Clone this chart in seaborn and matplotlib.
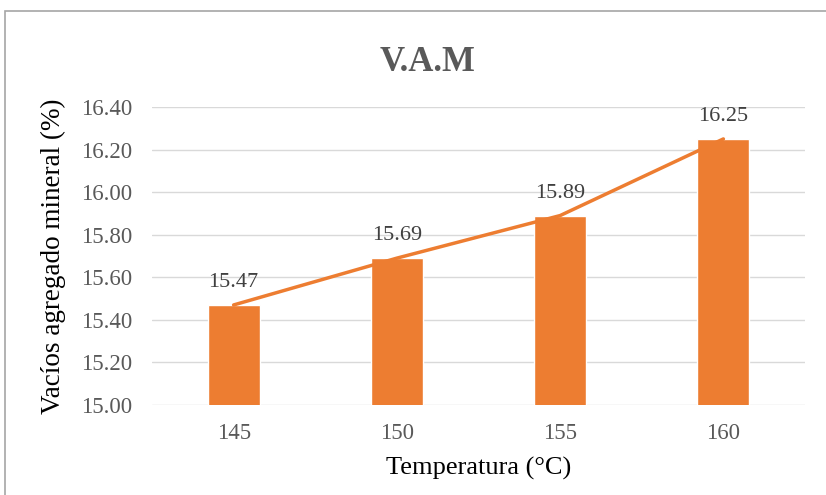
import matplotlib
matplotlib.use("Agg")
import matplotlib.pyplot as plt
import seaborn as sns
import pandas as pd
from matplotlib.patches import Rectangle

temperaturas = ["145", "150", "155", "160"]
vam = [15.47, 15.69, 15.89, 16.25]
yticks = [15.00, 15.20, 15.40, 15.60, 15.80, 16.00, 16.20, 16.40]

sns.set_theme(style="white")
plt.rcParams['font.family'] = ['Liberation Serif', 'DejaVu Serif']

df = pd.DataFrame({"Temperatura": temperaturas, "VAM": vam})

fig = plt.figure(figsize=(8.26, 4.95), dpi=100)
ax = fig.add_axes([152/826, 1 - 405/495, 653/826, 298/495])

orange = "#ED7D31"
grey = "#595959"

sns.barplot(data=df, x="Temperatura", y="VAM", color=orange, width=0.32,
            saturation=1, ax=ax, zorder=2)
sns.lineplot(x=list(range(len(vam))), y=vam, color=orange, linewidth=2.5,
             ax=ax, zorder=3)

ax.set_ylim(15.0, 16.4)
ax.set_xlim(-0.5, 3.5)
ax.set_yticks(yticks)
ax.set_yticklabels([f"{v:.2f}" for v in yticks])
ax.yaxis.grid(True, color="#D9D9D9", linewidth=1, zorder=0)
ax.set_axisbelow(True)
for s in ax.spines.values():
    s.set_visible(False)
ax.tick_params(axis="both", length=0, labelsize=16.5, labelcolor=grey)
ax.tick_params(axis="y", pad=14)
ax.tick_params(axis="x", pad=13)

for i, v in enumerate(vam):
    ax.text(i, v + 0.06, f"{v:.2f}", ha="center", va="bottom",
            fontsize=16, color="#404040")

ax.set_xlabel("Temperatura (°C)", fontsize=19, color="black", labelpad=9)
ax.set_ylabel("Vacíos agregado mineral (%)", fontsize=19.5, color="black", labelpad=11)
fig.text(428/826, 1 - 63/495, "V.A.M", ha="center", va="center",
         fontsize=25, fontweight="bold", color=grey)

fig.patches.append(Rectangle((5/826, -0.01), 1.0, 1 - 11/495 + 0.01,
                             transform=fig.transFigure, fill=False,
                             edgecolor="#A6A6A6", linewidth=1.2))

fig.savefig("out.png", dpi=100)
